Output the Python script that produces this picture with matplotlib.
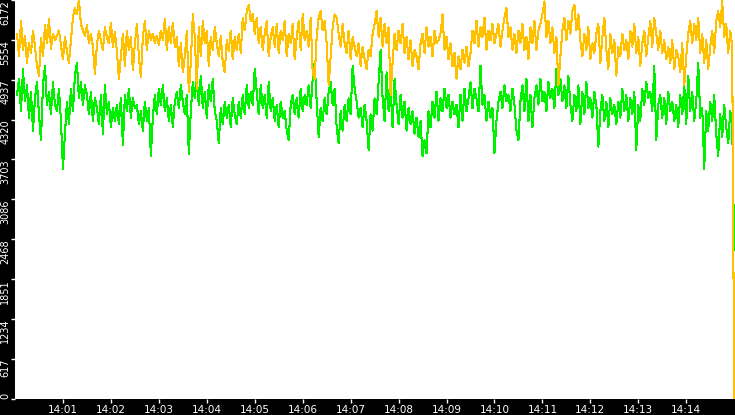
import numpy as np
import matplotlib
matplotlib.use("Agg")
from matplotlib import pyplot as plt

# two counters sampled every 2.5 s between 14:00 and 14:15
upper = [
    5650, 5300, 5850, 5400, 5620, 5200, 5500, 5350, 5700, 5450, 5150, 5000, 5580, 5300, 5780, 5500, 5880, 5420, 5650, 5550,
    5620, 5700, 5480, 5250, 5600, 5380, 5200, 5550, 5900, 6050, 5950, 6172, 5800, 5700, 5620, 5780, 5500, 5650, 5450, 5020,
    5480, 5700, 5550, 5400, 5750, 5600, 5500, 5820, 5450, 5680, 5380, 4950, 5300, 5650, 5150, 5700, 5400, 5600, 5080, 5500,
    5800, 5300, 4980, 5600, 5850, 5400, 5700, 5550, 5650, 5500, 5620, 5480, 5700, 5550, 5880, 5400, 5750, 5500, 5820, 5450,
    5600, 5150, 5500, 5050, 5300, 5700, 4750, 5200, 5950, 5600, 4800, 5750, 5300, 5850, 5500, 5700, 5150, 5600, 5400, 5750,
    5500, 5300, 5620, 5200, 5050, 5550, 5380, 5700, 5250, 5600, 5400, 5650, 5350, 5900, 5700, 6000, 6100, 5850, 5950, 5650,
    5900, 5500, 5750, 5400, 5650, 5850, 5300, 5600, 5750, 5450, 5800, 5350, 5700, 5550, 5850, 5300, 5650, 5500, 5800, 5250,
    5600, 5850, 5400, 5950, 5550, 5700, 5450, 5900, 5050, 4950, 5600, 5900, 6000, 5700, 5850, 5500, 4850, 5300, 5750, 5950,
    5900, 5650, 5450, 5800, 5500, 5350, 5700, 5250, 5600, 5450, 5300, 5500, 5150, 5450, 5250, 5100, 5400, 5300, 5650, 5800,
    6000, 5600, 5900, 5450, 5800, 5500, 5750, 4700, 5200, 5650, 5400, 5700, 5500, 5800, 5350, 5600, 5250, 5550, 5150, 5400,
    5300, 5100, 5500, 5650, 5350, 5750, 5450, 5600, 5300, 5700, 5500, 5550, 5650, 5950, 5400, 5600, 5250, 5500, 5150, 5350,
    4950, 5300, 5100, 5400, 5200, 5450, 5150, 5350, 5700, 5500, 5850, 5450, 5750, 5600, 5900, 5400, 5700, 5550, 5800, 5500,
    5650, 5800, 5450, 5700, 5900, 6050, 5600, 5750, 5400, 5650, 5350, 5700, 5500, 5800, 5400, 5600, 5250, 5750, 5500, 5850,
    5400, 5700, 5800, 5950, 6150, 5600, 5850, 5500, 5750, 5350, 5600, 4850, 5300, 5700, 5900, 5550, 5850, 5650, 6000, 6100,
    5700, 5950, 5550, 5300, 5650, 5400, 5750, 5250, 5500, 5350, 5650, 5800, 5200, 5600, 5900, 5400, 5100, 5650, 5350, 5550,
    5000, 5450, 5300, 5650, 5400, 5550, 5250, 5700, 5450, 5800, 5350, 5600, 5150, 5500, 5700, 5300, 5600, 5850, 5450, 5900,
    5650, 5400, 5700, 5350, 5550, 5250, 5450, 5200, 5550, 5100, 5400, 5300, 5050, 5500, 4850, 5300, 5650, 5850, 5500, 5800,
    5550, 5900, 5350, 5650, 5200, 5550, 5100, 5450, 5700, 5350, 5850, 6000, 5750, 6150, 5600, 5800, 5350, 5700, 5450, 0,
]
lower = [
    4700, 4950, 4450, 5100, 4600, 4850, 4350, 4750, 4150, 4650, 4900, 4400, 4000, 4850, 5150, 4550, 4750, 4400, 4900, 4550,
    4450, 4800, 4300, 3560, 4100, 4600, 4250, 4800, 4450, 5000, 5200, 4650, 4900, 4550, 4850, 4700, 4400, 4750, 4300, 4650,
    4500, 4250, 4700, 4100, 4850, 4400, 4600, 4200, 4500, 4300, 4550, 4250, 4650, 3920, 4700, 4450, 4800, 4350, 4650, 4500,
    4550, 4250, 4450, 4150, 4600, 4300, 4500, 3760, 4350, 4700, 4400, 4800, 4550, 4850, 4450, 4650, 4300, 4550, 4200, 4600,
    4750, 4500, 4850, 4600, 4400, 4700, 3780, 4450, 4900, 4650, 4950, 4550, 5000, 4500, 4750, 4350, 4850, 4600, 4950, 4450,
    4300, 3950, 4500, 4250, 4600, 4350, 4550, 4200, 4650, 4400, 4250, 4600, 4350, 4700, 4400, 4850, 4500, 4750, 4550, 5100,
    4750, 4400, 4850, 4500, 4700, 4350, 4900, 4450, 4650, 4300, 4550, 4200, 4600, 4350, 4450, 4150, 4000, 4550, 4700, 4400,
    4650, 4350, 4800, 4450, 4700, 4550, 4850, 4500, 4950, 5200, 4600, 4050, 4500, 4300, 4650, 4400, 4750, 4900, 4550, 4800,
    4200, 3950, 4450, 4150, 4550, 4300, 4650, 4400, 5150, 4800, 4600, 4350, 4500, 4200, 4550, 4300, 3850, 4400, 4150, 4650,
    4400, 4900, 5400, 4650, 4300, 5050, 4450, 4800, 4200, 4950, 4550, 4250, 4700, 4350, 4600, 4150, 4500, 4250, 4450, 4100,
    4350, 4050, 4300, 3750, 4000, 3800, 4450, 4200, 4600, 4350, 4750, 4300, 4650, 4450, 4800, 4500, 4700, 4350, 4600, 4400,
    4550, 4200, 4700, 4300, 4800, 4450, 4650, 4900, 4500, 4800, 4650, 4450, 5150, 4550, 4700, 4300, 4600, 4350, 4500, 3800,
    4300, 4600, 4750, 4500, 4850, 4600, 4700, 4450, 4800, 4550, 4150, 4000, 4600, 4850, 4450, 4950, 4300, 4700, 4200, 4650,
    4850, 4550, 4950, 4600, 4750, 4450, 4900, 4650, 4800, 4500, 5100, 4700, 4950, 4600, 4850, 4500, 5000, 4550, 4300, 4700,
    4450, 4850, 4250, 4750, 4400, 4900, 4500, 4650, 4350, 4750, 4550, 3900, 4450, 4700, 4300, 4600, 4200, 4650, 4400, 4550,
    4250, 4600, 4350, 4800, 4450, 4700, 4300, 4650, 4400, 4750, 3850, 4550, 4300, 4800, 4550, 4900, 4650, 4750, 4450, 5150,
    4000, 4550, 4700, 4350, 4650, 4250, 4750, 4450, 4600, 4300, 4550, 4200, 4700, 4400, 4850, 4250, 5000, 4450, 4750, 4300,
    4600, 5200, 4350, 4500, 3560, 4450, 4150, 4600, 4300, 4700, 4100, 3760, 4400, 4050, 4550, 4200, 3950, 4450, 4250, 2300,
]
step_s = 2.5
y_max = 6172
minute_labels = ["14:01", "14:02", "14:03", "14:04", "14:05", "14:06", "14:07",
                 "14:08", "14:09", "14:10", "14:11", "14:12", "14:13", "14:14"]

t = np.arange(1, len(upper) + 1) * step_s

fig = plt.figure(figsize=(7.35, 4.15), dpi=100, facecolor="black")
ax = fig.add_axes([15 / 735, 16.5 / 415, 720 / 735, 398.5 / 415])
ax.set_facecolor("white")

ax.plot(t, lower, color="#00f000", lw=0.75, antialiased=False)
ax.plot(t, upper, color="#ffc000", lw=0.75, antialiased=False)

ax.set_xlim(0, 901)
ax.set_ylim(0, y_max)
for s in ax.spines.values():
    s.set_visible(False)

ax.set_xticks([60 * (i + 1) for i in range(len(minute_labels))], minute_labels)
yt = [y_max * i / 10 for i in range(11)]
ax.set_yticks(yt, [str(int(v)) for v in yt])

ax.tick_params(axis="x", colors="white", length=3, width=1, pad=2, labelsize=7.5)
ax.tick_params(axis="y", colors="white", length=3, width=1, pad=0.5, labelsize=7)
for i, lab in enumerate(ax.get_yticklabels()):
    lab.set_rotation(90)
    lab.set_va("bottom" if i == 0 else "top")

fig.savefig("out.png", dpi=100, facecolor="black")
